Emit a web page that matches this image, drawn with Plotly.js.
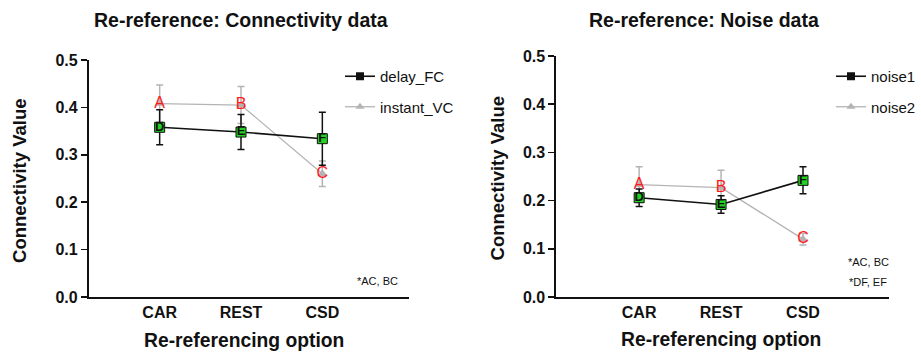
<!DOCTYPE html>
<html>
<head>
<meta charset="utf-8">
<script src="https://cdn.plot.ly/plotly-3.0.1.min.js"></script>
<style>html,body{margin:0;padding:0;background:#fff;}#chart{width:921px;height:354px;}</style>
</head>
<body>
<div id="chart"></div>
<script>
// ---- data ----
const categories = ["CAR", "REST", "CSD"];
// Left panel: connectivity data
const delayFC = [0.358, 0.348, 0.334];
const delayFCerr = [0.037, 0.037, 0.056];
const instantVC = [0.408, 0.405, 0.26];
const instantVCerr = [0.039, 0.039, 0.027];
// Right panel: noise data
const noise1 = [0.206, 0.192, 0.242];
const noise1err = [0.018, 0.018, 0.028];
const noise2 = [0.233, 0.227, 0.12];
const noise2err = [0.037, 0.036, 0.012];
// letters on markers
const lettersGrey = ["A", "B", "C"];
const lettersBlack = ["D", "E", "F"];
const yTicks = [0, 0.1, 0.2, 0.3, 0.4, 0.5];
const yTickText = ["0.0", "0.1", "0.2", "0.3", "0.4", "0.5"];

const W = 921, H = 354;
const px = v => v / W;
const py = v => 1 - v / H;

const BLACK = "#111111";
const GREY = "#b4b4b4";
const GREEN = "#22d322";
const RED = "#ff1a1a";
const FONT = "Liberation Sans, Arial, sans-serif";

function seriesTraces(xa, ya, vals, errs, kind, letters) {
  const isBlack = kind === "black";
  const col = isBlack ? BLACK : GREY;
  return [{
    x: categories, y: vals, xaxis: xa, yaxis: ya, type: "scatter", mode: "lines+markers",
    line: {color: col, width: isBlack ? 1.6 : 1.3},
    marker: isBlack ? {symbol: "square", size: 10, color: GREEN, line: {color: BLACK, width: 1}}
                    : {symbol: "triangle-up", size: 9, color: GREY},
    error_y: {type: "data", array: errs, visible: true, color: col, thickness: 1.5, width: 3.5},
    showlegend: false, hoverinfo: "skip"
  }, {
    x: categories, y: vals, xaxis: xa, yaxis: ya, type: "scatter", mode: "text",
    text: letters, textposition: "middle center",
    textfont: isBlack ? {family: FONT, size: 13, color: BLACK, weight: "bold"} : {family: FONT, size: 16, color: RED},
    showlegend: false, hoverinfo: "skip"
  }];
}
function legendTrace(xa, ya, kind, name, legendId, group) {
  const isBlack = kind === "black";
  const col = isBlack ? BLACK : GREY;
  return {
    x: [null], y: [null], xaxis: xa, yaxis: ya, type: "scatter", mode: "lines+markers", name: name,
    line: {color: col, width: isBlack ? 1.6 : 1.3},
    marker: isBlack ? {symbol: "square", size: 8, color: BLACK} : {symbol: "triangle-up", size: 8, color: GREY},
    legend: legendId, legendgroup: group, showlegend: true, hoverinfo: "skip"
  };
}

const data = [].concat(
  seriesTraces("x", "y", instantVC, instantVCerr, "grey", lettersGrey),
  seriesTraces("x", "y", delayFC, delayFCerr, "black", lettersBlack),
  seriesTraces("x2", "y2", noise2, noise2err, "grey", lettersGrey),
  seriesTraces("x2", "y2", noise1, noise1err, "black", lettersBlack),
  [legendTrace("x", "y", "black", "delay_FC", "legend", "g1"),
   legendTrace("x", "y", "grey", "instant_VC", "legend", "g2"),
   legendTrace("x2", "y2", "black", "noise1", "legend2", "g3"),
   legendTrace("x2", "y2", "grey", "noise2", "legend2", "g4")]
);

const xaxisBase = {
  type: "category", showgrid: false, zeroline: false, showline: true, linecolor: BLACK, linewidth: 2.2,
  ticks: "", tickfont: {family: FONT, size: 16, color: BLACK, weight: "bold"}, fixedrange: true
};
const yaxisBase = {
  range: [0, 0.5], tickvals: yTicks, ticktext: yTickText, showgrid: false, zeroline: false,
  showline: true, linecolor: BLACK, linewidth: 2, ticks: "outside", ticklen: 6, tickwidth: 1.6, tickcolor: BLACK,
  tickfont: {family: FONT, size: 16, color: BLACK, weight: "bold"}, fixedrange: true
};

function ann(text, x, y, size, bold, angle) {
  return {text: text, x: px(x), y: py(y), xref: "paper", yref: "paper", showarrow: false,
    xanchor: "center", yanchor: "middle", textangle: angle || 0,
    font: {family: FONT, size: size, color: BLACK, weight: bold ? "bold" : "normal"}};
}

const layout = {
  width: W, height: H,
  margin: {l: 0, r: 0, t: 0, b: 0},
  paper_bgcolor: "#fff", plot_bgcolor: "#fff",
  showlegend: true,
  xaxis: Object.assign({}, xaxisBase, {domain: [px(89), px(409)], range: [-0.87, 3.06], anchor: "y"}),
  yaxis: Object.assign({}, yaxisBase, {domain: [py(297), py(60)], anchor: "x"}),
  xaxis2: Object.assign({}, xaxisBase, {domain: [px(557), px(890)], range: [-1.01, 3.05], anchor: "y2"}),
  yaxis2: Object.assign({}, yaxisBase, {domain: [py(297), py(56)], anchor: "x2"}),
  legend: {x: px(340), y: py(60), xanchor: "left", yanchor: "top", bgcolor: "rgba(0,0,0,0)",
    font: {family: FONT, size: 15, color: BLACK}, tracegroupgap: 8, traceorder: "grouped"},
  legend2: {x: px(832), y: py(60), xanchor: "left", yanchor: "top", bgcolor: "rgba(0,0,0,0)",
    font: {family: FONT, size: 15, color: BLACK}, tracegroupgap: 8, traceorder: "grouped"},
  annotations: [
    ann("Re-reference: Connectivity data", 241, 20, 19.5, true),
    ann("Re-reference: Noise data", 705, 20, 19.5, true),
    ann("Connectivity Value", 19, 180, 18.5, true, -90),
    ann("Connectivity Value", 498, 178, 18.5, true, -90),
    ann("Re-referencing option", 244, 340, 19.3, true),
    ann("Re-referencing option", 722, 339, 19.3, true),
    ann("*AC, BC", 378, 281, 11, false),
    ann("*AC, BC", 869, 262, 11, false),
    ann("*DF, EF", 869, 282, 11, false)
  ]
};

Plotly.newPlot("chart", data, layout, {displayModeBar: false, staticPlot: true});
</script>
</body>
</html>
